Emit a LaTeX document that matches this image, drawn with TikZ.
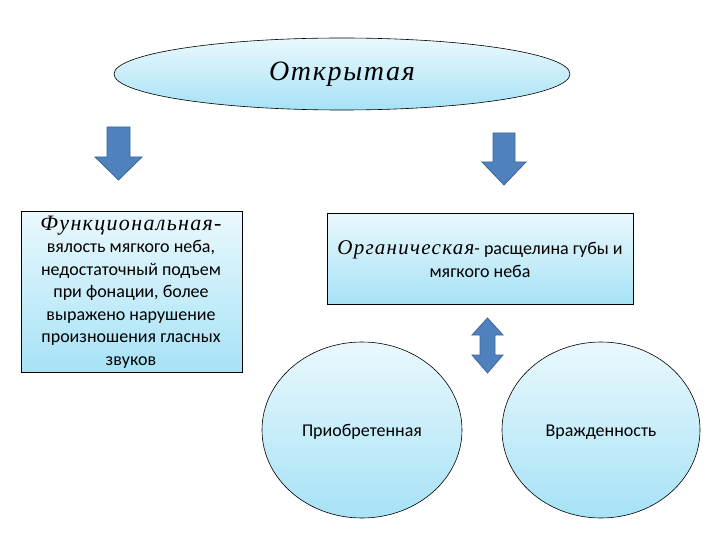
\documentclass[tikz,border=0pt]{standalone}
\usepackage{fontspec}
\setmainfont{Carlito}
\newfontfamily\scriptf[LetterSpace=6]{Liberation Serif}
\usetikzlibrary{shapes.geometric}
\definecolor{fillTop}{HTML}{EAF8FD}
\definecolor{fillBot}{HTML}{A6E2F6}
\definecolor{arrFill}{HTML}{4F81BD}
\definecolor{arrLine}{HTML}{3A679C}
\tikzset{
  grad/.style={draw=black, line width=0.6pt, top color=fillTop, bottom color=fillBot},
  boxnode/.style={grad, rectangle, inner sep=0pt, anchor=north west},
  ovalnode/.style={grad, ellipse, inner sep=0pt},
  blockarrow/.style={fill=arrFill, draw=arrLine, line width=0.8pt, line join=miter},
  body/.style={font=\fontsize{18}{22.5}\selectfont, text=black, align=center}
}
\begin{document}
\begin{tikzpicture}[x=1pt,y=-1pt]
\useasboundingbox (0,0) rectangle (720,540);
% top ellipse
\node[ovalnode, minimum width=456pt, minimum height=72pt] (top) at (342,74) {};
\node[font=\scriptf\itshape\fontsize{28}{32}\selectfont] (toptext) at (342,74) {Открытая};
% left box
\node[boxnode, minimum width=221pt, minimum height=161pt] (func) at (21,211) {};
\node[body] (functext) at (131,292) {{\scriptf\itshape\fontsize{22}{22.5}\selectfont Функциональная-}\\вялость мягкого  неба,\\недостаточный подъем\\при фонации, более\\выражено нарушение\\произношения гласных\\звуков};
% right box
\node[boxnode, minimum width=306pt, minimum height=91pt] (org) at (327,213) {};
\node[body] (orgtext) at (480,259) {{\scriptf\itshape\fontsize{21}{22.5}\selectfont Органическая}- расщелина губы и\\мягкого неба};
% circles
\node[ovalnode, minimum width=200pt, minimum height=176pt] (acq) at (362,430) {};
\node[body] (acqtext) at (362,432) {Приобретенная};
\node[ovalnode, minimum width=198pt, minimum height=176pt] (cong) at (601,430) {};
\node[body] (congtext) at (601,432) {Вражденность};
% arrows
\coordinate (a1) at (118.5,127);
\draw[blockarrow] (107,127) -- (130,127) -- (130,157) -- (142,157) -- (118.5,180) -- (95,157) -- (107,157) -- cycle;
\coordinate (a2) at (504,133);
\draw[blockarrow] (493,133) -- (515,133) -- (515,162) -- (526,162) -- (504,185) -- (482,162) -- (493,162) -- cycle;
\coordinate (a3) at (487.5,318);
\draw[blockarrow] (487.5,318) -- (503,335) -- (495,335) -- (495,355) -- (503,355) -- (487.5,373) -- (472,355) -- (480,355) -- (480,335) -- (472,335) -- cycle;
\end{tikzpicture}
\end{document}
